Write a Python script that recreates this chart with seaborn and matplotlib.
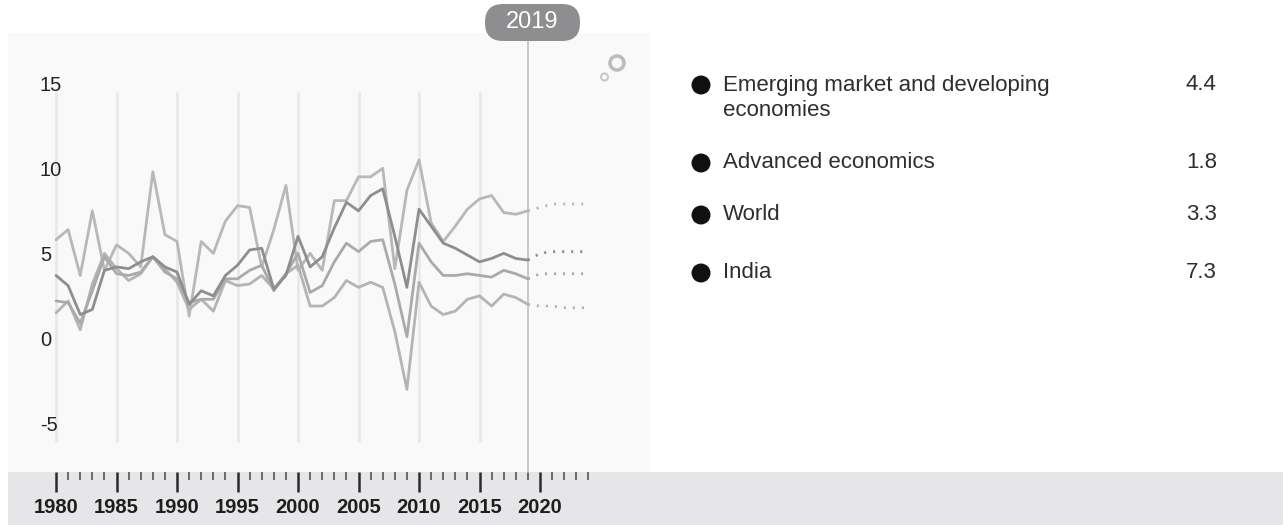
import numpy as np
import pandas as pd
import matplotlib
matplotlib.use("Agg")
import matplotlib.pyplot as plt
from matplotlib import font_manager
from matplotlib.patches import FancyBboxPatch, Circle, Rectangle
from matplotlib.transforms import IdentityTransform
import seaborn as sns

years = list(range(1980, 2020))
proj_years = list(range(2019, 2025))

emde = [3.5, 2.9, 1.2, 1.5, 3.8, 4.0, 3.9, 4.3, 4.6, 4.0,
        3.7, 1.8, 2.6, 2.3, 3.5, 4.1, 5.0, 5.1, 2.7, 3.5,
        5.8, 4.0, 4.6, 6.3, 7.8, 7.3, 8.2, 8.6, 5.8, 2.8,
        7.4, 6.4, 5.4, 5.1, 4.7, 4.3, 4.5, 4.8, 4.5, 4.4]
advanced = [1.3, 2.0, 0.3, 3.0, 4.8, 3.9, 3.2, 3.6, 4.6, 3.9,
            3.1, 1.5, 2.1, 1.4, 3.2, 2.9, 3.0, 3.5, 2.7, 3.6,
            4.1, 1.7, 1.7, 2.2, 3.2, 2.8, 3.1, 2.8, 0.2, -3.2,
            3.1, 1.7, 1.2, 1.4, 2.1, 2.3, 1.7, 2.4, 2.2, 1.8]
world = [2.0, 1.9, 0.7, 2.6, 4.6, 3.6, 3.5, 3.7, 4.6, 3.7,
         3.3, 1.9, 2.1, 2.1, 3.3, 3.3, 3.8, 4.1, 2.6, 3.6,
         4.8, 2.5, 2.9, 4.3, 5.4, 4.9, 5.5, 5.6, 3.0, -0.1,
         5.4, 4.3, 3.5, 3.5, 3.6, 3.5, 3.4, 3.8, 3.6, 3.3]
india = [5.6, 6.2, 3.5, 7.3, 3.8, 5.3, 4.8, 4.0, 9.6, 5.9,
         5.5, 1.1, 5.5, 4.8, 6.7, 7.6, 7.5, 4.0, 6.2, 8.8,
         3.8, 4.8, 3.8, 7.9, 7.9, 9.3, 9.3, 9.8, 3.9, 8.5,
         10.3, 6.6, 5.5, 6.4, 7.4, 8.0, 8.2, 7.2, 7.1, 7.3]

emde_proj = [4.4, 4.8, 4.9, 4.9, 4.9, 4.9]
advanced_proj = [1.8, 1.7, 1.7, 1.6, 1.6, 1.6]
world_proj = [3.3, 3.6, 3.6, 3.6, 3.6, 3.6]
india_proj = [7.3, 7.5, 7.7, 7.7, 7.7, 7.7]

legend_names = ["Emerging market and developing\neconomies", "Advanced economics", "World", "India"]
legend_values = ["4.4", "1.8", "3.3", "7.3"]

y_ticks = [15, 10, 5, 0, -5]
grid_years = list(range(1980, 2020, 5))

sns.set_theme(style="white")
installed = {f.name for f in font_manager.fontManager.ttflist}
narrow = "Liberation Sans Narrow" if "Liberation Sans Narrow" in installed else "Liberation Sans"
plt.rcParams["font.family"] = ["Liberation Sans", "DejaVu Sans"]
plt.rcParams["lines.scale_dashes"] = False

W, H = 1283, 525
fig = plt.figure(figsize=(W / 100, H / 100), dpi=100)
fig.patch.set_facecolor("white")

# grey band under the chart
fig.add_artist(Rectangle((8, 0), W - 8, 53, transform=IdentityTransform(),
                         facecolor="#e6e6e8", edgecolor="none", zorder=0))

ax = fig.add_axes([8 / W, 53 / H, 642 / W, (472 - 33) / H])
ax.set_facecolor("#f9f9f9")
for s in ax.spines.values():
    s.set_visible(False)

ax.vlines(grid_years, -6.3, 14.3, color="#e9e9e9", lw=2, zorder=1)
ax.axvline(2019, color="#c4c4c4", lw=1.3, zorder=2, clip_on=False)

hist = pd.DataFrame({
    "year": years * 4,
    "growth": emde + advanced + world + india,
    "series": ["EMDE"] * 40 + ["Advanced"] * 40 + ["World"] * 40 + ["India"] * 40,
})
proj = pd.DataFrame({
    "year": proj_years * 4,
    "growth": emde_proj + advanced_proj + world_proj + india_proj,
    "series": ["EMDE"] * 6 + ["Advanced"] * 6 + ["World"] * 6 + ["India"] * 6,
})
palette = {"India": "#b8b8b8", "Advanced": "#b4b4b4", "World": "#aaaaaa", "EMDE": "#8e8e8e"}
order = ["India", "Advanced", "World", "EMDE"]

for name in order:
    sns.lineplot(data=hist[hist.series == name], x="year", y="growth", color=palette[name],
                 lw=2.0, ax=ax, zorder=3, legend=False)
    sns.lineplot(data=proj[proj.series == name], x="year", y="growth", color=palette[name],
                 lw=2.0, linestyle=(0, (1.5, 5)), ax=ax, zorder=3, legend=False)

ax.set_xlim(1976.03, 2029.09)
ax.set_ylim(-8.06, 17.76)
ax.set_xlabel("")
ax.set_ylabel("")
ax.set_yticks([])

for v in y_ticks:
    ax.text(32 / 642, v - 0.3, str(v), transform=ax.get_yaxis_transform(),
            ha="left", va="center", fontsize=14.5, family=[narrow, "DejaVu Sans"], color="#222222")

ax.set_xticks(list(range(1980, 2021, 5)))
ax.set_xticks(list(range(1980, 2025)), minor=True)
ax.xaxis.set_ticks_position("bottom")
ax.tick_params(axis="x", which="major", direction="out", length=14.5, width=1.8,
               color="#2b2b2b", pad=4.5, labelsize=14.5, labelcolor="#1e1e1e", bottom=True)
ax.tick_params(axis="x", which="minor", direction="out", length=5.5, width=1.2,
               color="#555555", bottom=True)
for lab in ax.get_xticklabels():
    lab.set_fontweight("bold")
    lab.set_family([narrow, "DejaVu Sans"])

# year badge
fig.add_artist(FancyBboxPatch((485, H - 41), 95, 37, boxstyle="round,pad=0,rounding_size=18",
                              transform=IdentityTransform(), facecolor="#8e8e90",
                              edgecolor="none", zorder=5))
fig.text(532.5 / W, 1 - 22.5 / H, "2019", ha="center", va="center", fontsize=17,
         color="white", zorder=6)

# small icon top right
fig.add_artist(Circle((617, H - 63), 7, transform=IdentityTransform(), fill=False,
                      edgecolor="#bdbdbd", lw=2.6, zorder=5))
fig.add_artist(Circle((604.5, H - 77), 3.5, transform=IdentityTransform(), fill=False,
                      edgecolor="#c8c8c8", lw=1.5, zorder=5))

# legend on the right
rows_y = [85, 163, 215, 273]
for name, val, yy in zip(legend_names, legend_values, rows_y):
    fig.add_artist(Circle((701, H - yy), 9.5, transform=IdentityTransform(),
                          facecolor="#111111", edgecolor="none", zorder=5))
    lines = name.split("\n")
    for i, line in enumerate(lines):
        fig.text(723 / W, 1 - (yy + 25 * i) / H, line, ha="left", va="center",
                 fontsize=16, color="#2e2e2e")
    fig.text(1186 / W, 1 - yy / H, val, ha="left", va="center", fontsize=16, color="#2e2e2e")

fig.savefig("out.png", dpi=100, facecolor="white")
